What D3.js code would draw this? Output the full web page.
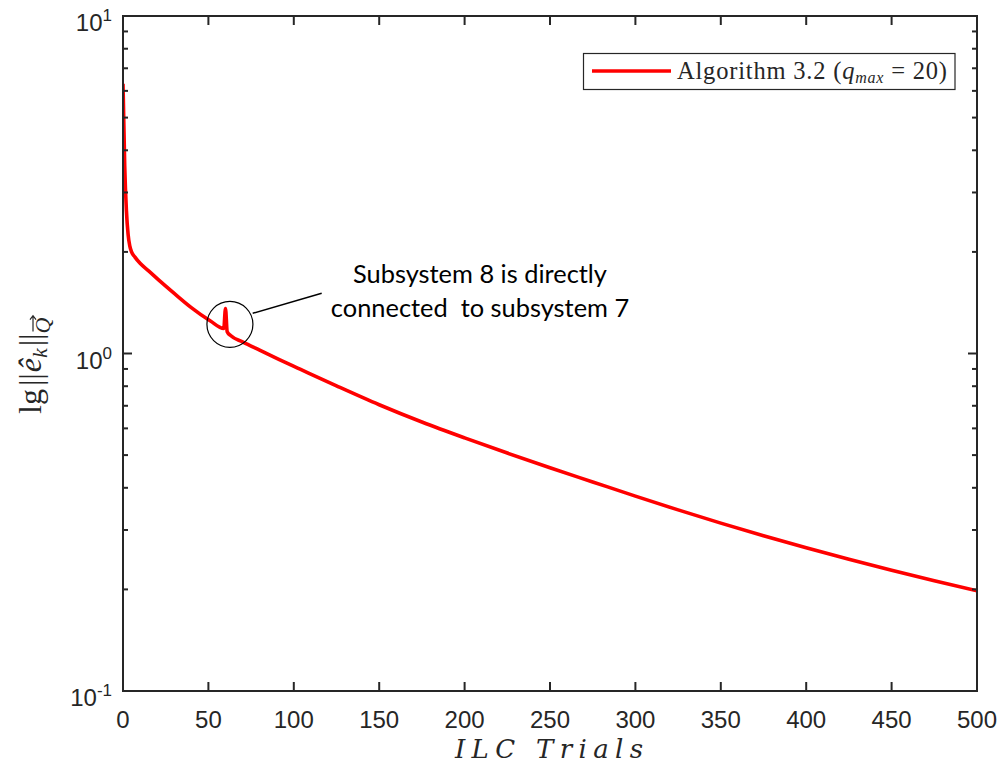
<!DOCTYPE html>
<html>
<head>
<meta charset="utf-8">
<script src="https://cdn.jsdelivr.net/npm/d3@7"></script>
<style>
  html, body { margin: 0; padding: 0; background: #fff; }
  svg { display: block; }
</style>
</head>
<body>
<svg id="chart" width="1002" height="774"></svg>
<script>
// ---- data ----
const trials = [0, 1, 2, 3, 4, 5, 7, 10, 15, 22, 30, 40, 51, 59, 60, 61, 63, 70, 80, 90, 104, 125, 150, 175, 200, 225, 250, 275, 300, 325, 350, 375, 400, 425, 450, 475, 500];
const errNorm = [6.3, 3.6, 2.65, 2.25, 2.08, 2.0, 1.93, 1.85, 1.758, 1.633, 1.507, 1.368, 1.25, 1.186, 1.36, 1.16, 1.13, 1.083, 1.023, 0.967, 0.897, 0.802, 0.705, 0.6266, 0.5623, 0.507, 0.4585, 0.4163, 0.378, 0.344, 0.3144, 0.2884, 0.2656, 0.2455, 0.2278, 0.2121, 0.1982];
const xTicks = [0, 50, 100, 150, 200, 250, 300, 350, 400, 450, 500];
const yMajor = [0.1, 1, 10];
const yExponents = ["-1", "0", "1"];
const seriesName = "Algorithm 3.2";
const annotationLines = ["Subsystem 8 is directly", "connected  to subsystem 7"];
const spikeTrial = 62.6, spikeValue = 1.22;

// ---- layout ----
const L = 123, R = 977, T = 16, B = 691;
const axisColor = "#262626";
const svg = d3.select("#chart");

const x = d3.scaleLinear().domain([0, 500]).range([L, R]);
const y = d3.scaleLog().domain([0.1, 10]).range([B, T]);

const yMinor = [];
[0.1, 1].forEach(d => { for (let m = 2; m <= 9; m++) yMinor.push(+(d * m).toPrecision(3)); });

const g = svg.append("g");

svg.append("clipPath").attr("id", "clip").append("rect")
  .attr("x", L).attr("y", T).attr("width", R - L).attr("height", B - T);

const data = trials.map((t, i) => ({ t, v: errNorm[i] }));
const line = d3.line().x(d => x(d.t)).y(d => y(d.v)).curve(d3.curveMonotoneX);
g.append("path").datum(data)
  .attr("clip-path", "url(#clip)")
  .attr("d", line)
  .attr("fill", "none")
  .attr("stroke", "#ff0000")
  .attr("stroke-width", 3.6)
  .attr("stroke-linejoin", "round");

g.append("rect").attr("x", L).attr("y", T).attr("width", R - L).attr("height", B - T)
  .attr("fill", "none").attr("stroke", axisColor).attr("stroke-width", 2);

const majorLen = 9, minorLen = 5;
xTicks.forEach(t => {
  g.append("line").attr("x1", x(t)).attr("x2", x(t)).attr("y1", B).attr("y2", B - majorLen)
    .attr("stroke", axisColor).attr("stroke-width", 2);
  g.append("line").attr("x1", x(t)).attr("x2", x(t)).attr("y1", T).attr("y2", T + majorLen)
    .attr("stroke", axisColor).attr("stroke-width", 2);
  g.append("text").attr("x", x(t)).attr("y", 728)
    .attr("text-anchor", "middle")
    .attr("font-family", "Liberation Sans, Arial, sans-serif")
    .attr("font-size", 24).attr("fill", axisColor).text(t);
});
yMajor.forEach(v => {
  [[L, L + majorLen], [R, R - majorLen]].forEach(([a, b]) => {
    g.append("line").attr("x1", a).attr("x2", b).attr("y1", y(v)).attr("y2", y(v))
      .attr("stroke", axisColor).attr("stroke-width", 2);
  });
});
yMinor.forEach(v => {
  [[L, L + minorLen], [R, R - minorLen]].forEach(([a, b]) => {
    g.append("line").attr("x1", a).attr("x2", b).attr("y1", y(v)).attr("y2", y(v))
      .attr("stroke", axisColor).attr("stroke-width", 2);
  });
});
yMajor.forEach((v, i) => {
  const t = g.append("text").attr("x", 112).attr("y", y(v) + 15)
    .attr("text-anchor", "end")
    .attr("font-family", "Liberation Sans, Arial, sans-serif")
    .attr("font-size", 24).attr("fill", axisColor);
  t.append("tspan").text("10");
  t.append("tspan").attr("dy", -10).attr("font-size", 17).text(yExponents[i]);
});

// x axis label
g.append("text").attr("x", (L + R) / 2 - 1).attr("y", 758)
  .attr("text-anchor", "middle")
  .attr("font-family", "DejaVu Serif, serif")
  .attr("font-style", "italic")
  .attr("font-size", 26).attr("fill", axisColor)
  .attr("textLength", 188).attr("lengthAdjust", "spacing")
  .text("ILC Trials");

// y axis label
const ylg = g.append("g").attr("transform", "translate(41,330) rotate(-90)");
const yl = ylg.append("text")
  .attr("x", -84).attr("y", 0)
  .attr("font-family", "Liberation Serif, Times New Roman, serif")
  .attr("font-size", 32).attr("fill", axisColor);
yl.append("tspan").text("lg");
yl.append("tspan").attr("dx", 3).text("||");
yl.append("tspan").attr("dx", 1).attr("font-style", "italic").text("ê");
yl.append("tspan").attr("font-style", "italic").attr("font-size", 22).attr("dy", 6).text("k");
yl.append("tspan").attr("dx", 2).attr("dy", -6).text("||");
yl.append("tspan").attr("font-style", "italic").attr("font-size", 22).attr("dy", 9).text("Q");
try {
  const node = yl.node();
  const n = node.getNumberOfChars();
  const s = node.getStartPositionOfChar(n - 1);
  const e = node.getEndPositionOfChar(n - 1);
  const ay = s.y - 17, ax1 = s.x + 2, ax2 = e.x + 2;
  ylg.append("path")
    .attr("d", `M${ax1},${ay}H${ax2}M${ax2 - 4},${ay - 3}L${ax2},${ay}L${ax2 - 4},${ay + 3}`)
    .attr("fill", "none").attr("stroke", axisColor).attr("stroke-width", 1.2);
} catch (err) {}

// legend
const lg = g.append("g");
lg.append("rect").attr("x", 583.5).attr("y", 53.5).attr("width", 371.5).attr("height", 36)
  .attr("fill", "#fff").attr("stroke", axisColor).attr("stroke-width", 1.2);
lg.append("line").attr("x1", 592).attr("x2", 671).attr("y1", 71).attr("y2", 71)
  .attr("stroke", "#ff0000").attr("stroke-width", 3.6);
const lt = lg.append("text").attr("x", 677).attr("y", 79)
  .attr("font-family", "Liberation Serif, Times New Roman, serif")
  .attr("font-size", 24.5).attr("fill", axisColor)
  .attr("textLength", 270).attr("lengthAdjust", "spacing");
lt.append("tspan").text(seriesName + " (");
lt.append("tspan").attr("font-style", "italic").text("q");
lt.append("tspan").attr("font-style", "italic").attr("font-size", 16).attr("dy", 4).text("max");
lt.append("tspan").attr("dy", -4).text(" = 20)");

// annotation
const cx = x(spikeTrial), cy = y(spikeValue);
g.append("circle").attr("cx", cx).attr("cy", cy).attr("r", 23)
  .attr("fill", "none").attr("stroke", "#000").attr("stroke-width", 1.2);
g.append("line").attr("x1", 252.7).attr("y1", 313.3).attr("x2", 321.7).attr("y2", 293.3)
  .attr("stroke", "#000").attr("stroke-width", 1.5);
annotationLines.forEach((s, i) => {
  g.append("text").attr("x", 480).attr("y", 283 + i * 33.5)
    .attr("text-anchor", "middle")
    .attr("font-family", "Lato, Open Sans, sans-serif")
    .attr("font-size", 25.4).attr("fill", "#000")
    .style("white-space", "pre")
    .text(s);
});
</script>
</body>
</html>
